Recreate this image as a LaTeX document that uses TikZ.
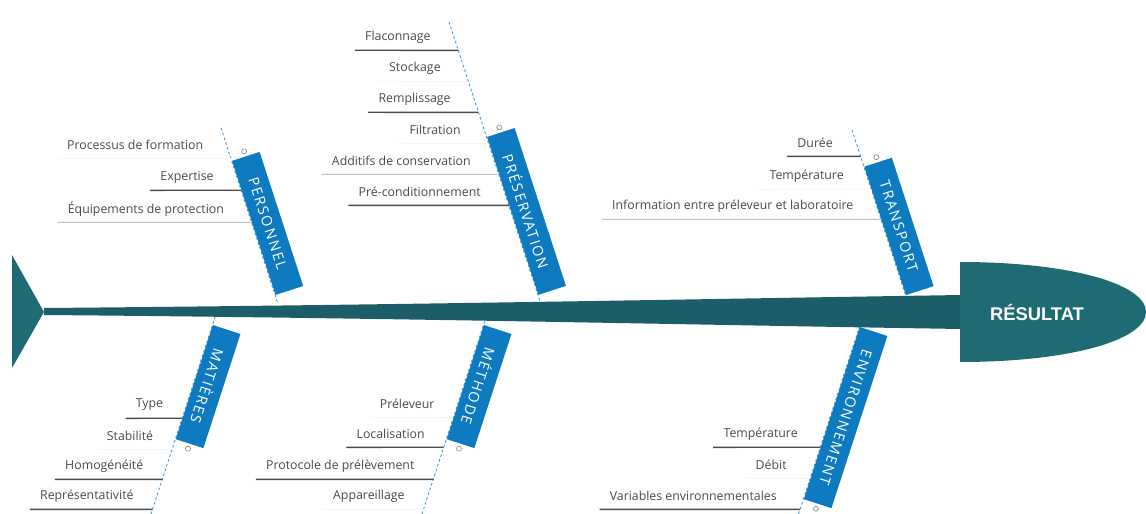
\documentclass[tikz,border=0pt]{standalone}
\usepackage{fontspec}
\setmainfont{Open Sans}
\newfontfamily\catfont{Open Sans}[LetterSpace=12]
\newfontfamily\headfont{Liberation Sans}
\usetikzlibrary{calc}
\definecolor{spine}{HTML}{1B5E6A}
\definecolor{headcol}{HTML}{1F6B75}
\definecolor{catblue}{HTML}{0E7BC1}
\definecolor{itemgray}{HTML}{4A4A4A}
\newcommand{\upx}{0.6pt}
\tikzset{
  bone/.style={draw=catblue!80, line width=0.5pt, dash pattern=on 1.6pt off 1.4pt},
  catbox/.style={fill=catblue, text=white, font=\catfont\fontsize{8.6}{9}\selectfont,
    minimum height=29*\upx, inner sep=0pt, anchor=south},
  itemtext/.style={text=itemgray, font=\fontsize{7.4}{8}\selectfont, inner xsep=0pt,
    inner ysep=0pt, minimum height=26*\upx, anchor=east},
  subdark/.style={draw=itemgray, line width=0.8pt},
  sublight/.style={draw=black!25, line width=0.6pt},
  subfaint/.style={draw=black!4, line width=0.5pt},
  knob/.style={circle, draw=black!45, line width=0.4pt, inner sep=0pt, minimum size=5*\upx},
}
\begin{document}
\begin{tikzpicture}[x=\upx, y=-\upx]
    \useasboundingbox (0,0) rectangle (1146,514);

    % bone axes
    \coordinate (per-top) at (221,128);   \coordinate (per-spine) at (278,304);
    \coordinate (pre-top) at (449,22);    \coordinate (pre-spine) at (541,304);
    \coordinate (tra-top) at (852,130);   \coordinate (tra-spine) at (908.5,304);
    \coordinate (mat-top) at (151,514);   \coordinate (mat-spine) at (215.4,316);
    \coordinate (met-top) at (422,514);   \coordinate (met-spine) at (486.4,316);
    \coordinate (env-top) at (798.6,514); \coordinate (env-spine) at (863,316);
    \foreach \b in {per,pre,tra,mat,met,env}
        \draw[bone] (\b-top) -- (\b-spine);

    % sub causes
    \foreach \y/\x/\txt/\sty [count=\i] in {145/203.5/Processus de formation/subfaint,
        177/213.9/Expertise/subdark, 209/224.3/Équipements de protection/sublight}{
        \node[itemtext] (per-\i) at (\x,\y) {\txt};
        \draw[\sty] ([xshift=-6pt]per-\i.south west) -- (intersection of per-top--per-spine and per-\i.south west--per-\i.south east);
    }
    \foreach \y/\x/\txt/\sty [count=\i] in {37/430.9/Flaconnage/subdark, 68/441/Stockage/subfaint,
        99/451/Remplissage/subdark, 130/461/Filtration/subfaint,
        161/471/Additifs de conservation/sublight, 192/481/Pré-conditionnement/subdark}{
        \node[itemtext] (pre-\i) at (\x,\y) {\txt};
        \draw[\sty] ([xshift=-6pt]pre-\i.south west) -- (intersection of pre-top--pre-spine and pre-\i.south west--pre-\i.south east);
    }
    \foreach \y/\x/\txt/\sty [count=\i] in {143/833/Durée/subdark, 176/844/Température/subfaint,
        206/853.7/Information entre préleveur et laboratoire/sublight}{
        \node[itemtext] (tra-\i) at (\x,\y) {\txt};
        \draw[\sty] ([xshift=-6pt]tra-\i.south west) -- (intersection of tra-top--tra-spine and tra-\i.south west--tra-\i.south east);
    }
    \foreach \y/\x/\txt/\sty [count=\i] in {405/163.5/Type/subdark, 436/153.4/Stabilité/subfaint,
        466/143.6/Homogénéité/subdark, 496/133.9/Représentativité/subdark}{
        \node[itemtext] (mat-\i) at (\x,\y) {\txt};
        \draw[\sty] ([xshift=-6pt]mat-\i.south west) -- (intersection of mat-top--mat-spine and mat-\i.south west--mat-\i.south east);
    }
    \foreach \y/\x/\txt/\sty [count=\i] in {404/434.8/Préleveur/subfaint, 434/425/Localisation/subdark,
        466/414.7/Protocole de prélèvement/subdark, 496/404.9/Appareillage/subfaint}{
        \node[itemtext] (met-\i) at (\x,\y) {\txt};
        \draw[\sty] ([xshift=-6pt]met-\i.south west) -- (intersection of met-top--met-spine and met-\i.south west--met-\i.south east);
    }
    \foreach \y/\x/\txt/\sty [count=\i] in {434/798/Température/subdark, 465/787/Débit/subfaint,
        496/777/Variables environnementales/subdark}{
        \node[itemtext] (env-\i) at (\x,\y) {\txt};
        \draw[\sty] ([xshift=-6pt]env-\i.south west) -- (intersection of env-top--env-spine and env-\i.south west--env-\i.south east);
    }

    % spine, tail and head
    \fill[spine] (44,308) .. controls (400,305) and (700,299) .. (962,295)
        -- (962,329) .. controls (700,325) and (400,318) .. (44,315) -- cycle;
    \fill[headcol] (12,255) -- (44,312) -- (12,368) -- cycle;
    \fill[headcol] (960,262) .. controls (1070,262) and (1146,284) .. (1146,312)
        .. controls (1146,340) and (1070,362) .. (960,362) -- cycle;
    \node[font=\headfont\bfseries\fontsize{11}{13}\selectfont, text=white] (res) at (1037,312) {RÉSULTAT};

    % categories
    \node[catbox, rotate=-72, minimum width=141*\upx] (per) at (253.5,228) {PERSONNEL};
    \node[catbox, rotate=-72, minimum width=166*\upx] (pre) at (512.4,216) {PRÉSERVATION};
    \node[catbox, rotate=-72, minimum width=135*\upx] (tra) at (884.8,231) {TRANSPORT};
    \node[catbox, rotate=-108, minimum width=120*\upx] (mat) at (194,382) {MATIÈRES};
    \node[catbox, rotate=-108, minimum width=120*\upx] (met) at (465,382) {MÉTHODE};
    \node[catbox, rotate=-108, minimum width=181*\upx] (env) at (831.5,413) {ENVIRONNEMENT};

    \foreach \b in {per,pre,tra}
        \node[knob] (\b-o) at ($(\b.west)!-3pt!(\b.east)$) {};
    \foreach \b in {mat,met,env}
        \node[knob] (\b-o) at ($(\b.east)!-3pt!(\b.west)$) {};
\end{tikzpicture}
\end{document}
